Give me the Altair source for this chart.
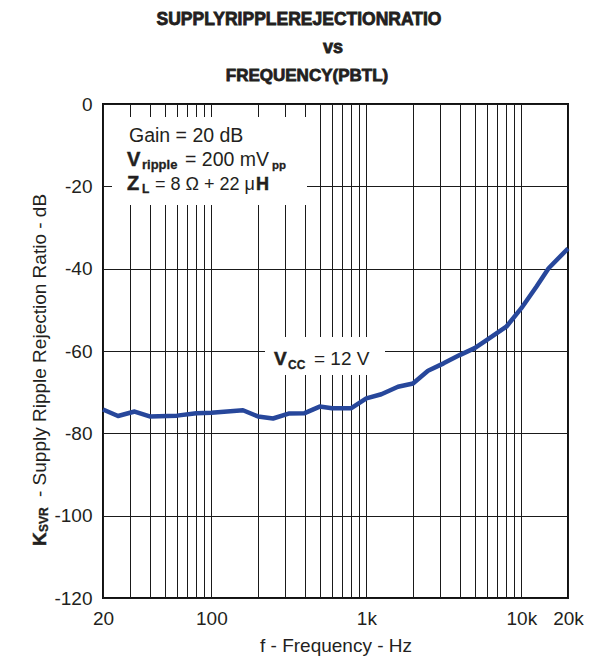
import altair as alt
import pandas as pd

# ---- data ----
freq_hz = [20, 25, 32, 40, 60, 80, 100, 160, 200, 250, 315, 400, 500, 600, 800,
           1000, 1250, 1600, 2000, 2500, 3150, 4000, 5000, 6000, 8000, 10000,
           12500, 15000, 20000]
ksvr_db = [-74.2, -75.8, -74.7, -75.9, -75.7, -75.1, -75.0, -74.4, -75.9, -76.4,
           -75.2, -75.1, -73.5, -73.9, -73.9, -71.5, -70.5, -68.7, -67.9, -64.8,
           -63.0, -61.0, -59.3, -57.3, -54.1, -49.6, -44.4, -39.9, -35.1]
x_grid = [20, 30, 40, 50, 60, 70, 80, 90,
          100, 200, 300, 400, 500, 600, 700, 800, 900,
          1000, 2000, 3000, 4000, 5000, 6000, 7000, 8000, 9000,
          10000, 20000]
y_ticks = [0, -20, -40, -60, -80, -100, -120]

df = pd.DataFrame({"f": freq_hz, "k": ksvr_db})
one = pd.DataFrame({"a": [0]})

INK = "#231F20"
REG = "Liberation Sans, Arial, Helvetica, sans-serif"

OX, OY = 103, 104  # page position of plot origin
W, H = 465, 494

label_expr = ("datum.value == 20 ? '20' : datum.value == 100 ? '100' : "
              "datum.value == 1000 ? '1k' : datum.value == 10000 ? '10k' : "
              "datum.value == 20000 ? '20k' : ''")

xenc = alt.X("f:Q", scale=alt.Scale(type="log", domain=[20, 20000], nice=False),
             axis=alt.Axis(values=x_grid, labelExpr=label_expr, grid=True,
                           gridColor="#1a1a1a", gridWidth=1, gridOpacity=1,
                           ticks=False, domain=False, labelOverlap=False,
                           labelFlush=False, labelFont=REG, labelFontSize=19,
                           labelColor=INK, labelPadding=11,
                           title="f - Frequency - Hz", titleFont=REG,
                           titleFontSize=19, titleFontWeight="normal",
                           titleColor=INK, titlePadding=8))
yenc = alt.Y("k:Q", scale=alt.Scale(domain=[-120, 0], nice=False),
             axis=alt.Axis(values=y_ticks, grid=True, gridColor="#1a1a1a",
                           gridWidth=1, gridOpacity=1, ticks=False, domain=False,
                           labelExpr="datum.value == 0 ? '0' : '-' + abs(datum.value)",
                           labelFont=REG, labelFontSize=19, labelColor=INK,
                           labelPadding=11, title=None))

base = alt.Chart(df).mark_line(color="#27479B", strokeWidth=4.5,
                               strokeJoin="round").encode(x=xenc, y=yenc)


def box(x1, y1, x2, y2):
    return alt.Chart(one).mark_rect(color="white", opacity=1).encode(
        x=alt.value(x1 - OX), x2=alt.value(x2 - OX),
        y=alt.value(y1 - OY), y2=alt.value(y2 - OY))


def txt(s, x, y, size, weight="normal", align="left", angle=0, heavy=0):
    kw = dict(text=s, font=REG, fontSize=size, fontWeight=weight, align=align,
              baseline="alphabetic", angle=angle, color=INK)
    if heavy:
        kw.update(stroke=INK, strokeWidth=heavy)
    return alt.Chart(one).mark_text(**kw).encode(
        x=alt.value(x - OX), y=alt.value(y - OY))


layers = [
    box(112, 117, 307, 205),
    box(265, 337, 385, 375),
    base,
    # annotation block
    txt("Gain = 20 dB", 129, 142, 19.5),
    txt("V", 127, 166, 20, "bold", heavy=0.5),
    txt("ripple", 142, 169, 13, "bold", heavy=0.3),
    txt("= 200 mV", 185, 166, 19.5),
    txt("pp", 272, 169, 11.5, "bold", heavy=0.3),
    txt("Z", 127, 190, 20, "bold", heavy=0.5),
    txt("L", 142, 193, 12, "bold", heavy=0.3),
    txt("= 8 \u03a9 + 22 \u03bc", 155, 190, 18),
    txt("H", 256, 190, 18, "bold", heavy=0.5),
    # VCC label
    txt("V", 274, 365, 19, "bold", heavy=0.5),
    txt("CC", 288, 369, 12, "bold", heavy=0.3),
    txt("= 12 V", 314, 365, 19),
    # y-axis title
    txt("K", 46, 546, 19, "bold", angle=270, heavy=0.5),
    txt("SVR", 48, 532, 12, "bold", angle=270, heavy=0.3),
    txt("- Supply Ripple Rejection Ratio - dB", 46, 497, 19, angle=270),
    # chart title
    txt("SUPPLYRIPPLEREJECTIONRATIO", 299, 25, 17.5, "bold", align="center", heavy=0.8),
    txt("vs", 333, 53, 18, "bold", align="center", heavy=0.8),
    txt("FREQUENCY(PBTL)", 307, 81, 17, "bold", align="center", heavy=0.8),
]

chart = alt.layer(*layers).properties(
    width=W, height=H,
    autosize=alt.AutoSizeParams(type="none"),
    padding={"left": OX - 8, "top": OY - 8, "right": 25, "bottom": 59},
    background="white",
).configure_view(stroke="#111111", strokeWidth=2)

chart.save("out.html", embed_options={"renderer": "svg", "actions": False})
